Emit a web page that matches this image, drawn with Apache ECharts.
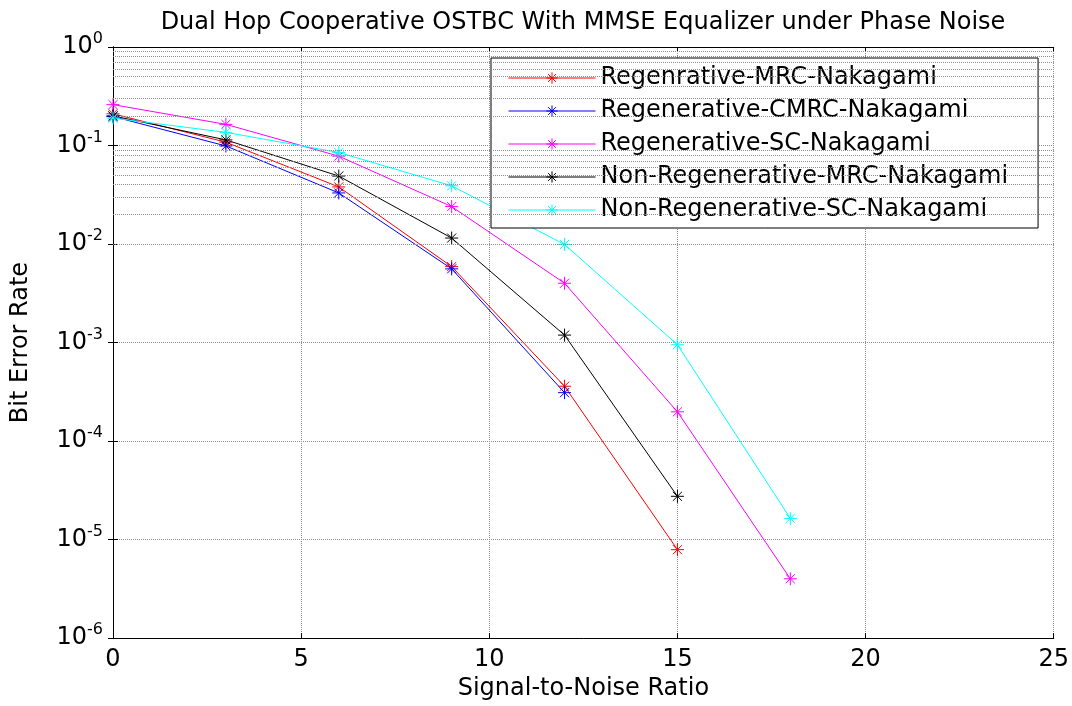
<!DOCTYPE html>
<html>
<head>
<meta charset="utf-8">
<script src="https://cdn.jsdelivr.net/npm/echarts@6/dist/echarts.min.js"></script>
<style>
  html, body { margin: 0; padding: 0; background: #fff; }
  #chart { width: 1072px; height: 706px; }
</style>
</head>
<body>
<div id="chart"></div>
<script>
// BER curves, dual hop cooperative OSTBC
const snr = [0, 3, 6, 9, 12, 15, 18];
const regenMRC = [0.21, 0.108, 0.038, 0.0059, 0.00036, 7.9e-6];
const regenCMRC = [0.197, 0.099, 0.033, 0.0056, 0.00031];
const regenSC = [0.26, 0.164, 0.078, 0.024, 0.004, 0.000198, 4.0e-6];
const nonRegenMRC = [0.2, 0.114, 0.049, 0.0115, 0.00119, 2.75e-5];
const nonRegenSC = [0.19, 0.136, 0.085, 0.039, 0.0099, 0.00095, 1.64e-5];

const names = ['Regenrative-MRC-Nakagami', 'Regenerative-CMRC-Nakagami', 'Regenerative-SC-Nakagami',
               'Non-Regenerative-MRC-Nakagami', 'Non-Regenerative-SC-Nakagami'];
const colors = ['#ff0000', '#0000ff', '#ff00ff', '#000000', '#00ffff'];
const curves = [regenMRC, regenCMRC, regenSC, nonRegenMRC, nonRegenSC];

// minor grid lines of the log axis (2..9 x each decade)
const decades = [1e-6, 1e-5, 1e-4, 1e-3, 1e-2, 1e-1];
const minorSteps = [2, 3, 4, 5, 6, 7, 8, 9];

const font = 'DejaVu Sans';
const asterisk = 'path://M5,0L5,10M0,5L10,5M1.5,1.5L8.5,8.5M8.5,1.5L1.5,8.5';
const gridDot = { color: '#8c8c8c', type: 'dotted', width: 1 };

let minorLines = [];
decades.forEach(d => minorSteps.forEach(m => minorLines.push({ yAxis: d * m })));

let series = curves.map((vals, i) => ({
    name: names[i],
    type: 'line',
    data: vals.map((v, j) => [snr[j], v]),
    symbol: asterisk,
    symbolSize: 13,
    lineStyle: { color: colors[i], width: 1 },
    itemStyle: { color: colors[i], borderColor: colors[i], borderWidth: 1 },
    z: 3
}));

series.push({
    name: 'minor',
    type: 'line',
    data: [],
    silent: true,
    markLine: {
        silent: true,
        symbol: 'none',
        label: { show: false },
        lineStyle: gridDot,
        animation: false,
        data: minorLines
    }
});

let chart = echarts.init(document.getElementById('chart'));

let option = {
    animation: false,
    backgroundColor: '#fff',
    title: {
        text: 'Dual Hop Cooperative OSTBC With MMSE Equalizer under Phase Noise',
        left: 578,
        top: 6,
        textAlign: 'center',
        textStyle: { fontFamily: font, fontSize: 24, fontWeight: 'normal', color: '#000' }
    },
    legend: {
        data: names,
        orient: 'vertical',
        left: 491,
        top: 58,
        padding: [8, 30, 6, 17],
        itemWidth: 87,
        itemHeight: 14,
        itemGap: 9,
        backgroundColor: '#fff',
        borderColor: '#000',
        borderWidth: 1,
        lineStyle: { width: 1 },
        itemStyle: { borderWidth: 1 },
        textStyle: { fontFamily: font, fontSize: 24, color: '#000', lineHeight: 24 }
    },
    grid: { left: 113, right: 18, top: 47, bottom: 64 },
    xAxis: [{
        type: 'value',
        min: 0,
        max: 25,
        interval: 5,
        name: 'Signal-to-Noise Ratio',
        nameLocation: 'middle',
        nameGap: 36,
        nameTextStyle: { fontFamily: font, fontSize: 24, color: '#000' },
        axisLine: { show: true, lineStyle: { color: '#000', width: 1 } },
        axisTick: { inside: true, length: 5, lineStyle: { color: '#000' } },
        axisLabel: { fontFamily: font, fontSize: 24, color: '#000', margin: 10 },
        splitLine: { show: true, lineStyle: gridDot }
    }, {
        type: 'value',
        position: 'top',
        min: 0,
        max: 25,
        interval: 5,
        axisLine: { show: true, lineStyle: { color: '#000', width: 1 } },
        axisTick: { inside: true, length: 5, lineStyle: { color: '#000' } },
        axisLabel: { show: false },
        splitLine: { show: false }
    }],
    yAxis: [{
        type: 'log',
        logBase: 10,
        min: 1e-6,
        max: 1,
        name: 'Bit Error Rate',
        nameLocation: 'middle',
        nameGap: 80,
        nameTextStyle: { fontFamily: font, fontSize: 24, color: '#000' },
        axisLine: { show: true, lineStyle: { color: '#000', width: 1 } },
        axisTick: { inside: true, length: 5, lineStyle: { color: '#000' } },
        axisLabel: {
            margin: 10,
            formatter: v => '{b|10}{e|' + Math.round(Math.log10(v)) + '}',
            rich: {
                b: { fontFamily: font, fontSize: 24, color: '#000' },
                e: { fontFamily: font, fontSize: 16, color: '#000', padding: [0, 0, 16, 0] }
            }
        },
        splitLine: { show: true, lineStyle: gridDot }
    }, {
        type: 'log',
        logBase: 10,
        min: 1e-6,
        max: 1,
        position: 'right',
        axisLine: { show: true, lineStyle: { color: '#000', width: 1 } },
        axisTick: { inside: true, length: 5, lineStyle: { color: '#000' } },
        axisLabel: { show: false },
        splitLine: { show: false }
    }],
    series: series
};

chart.setOption(option);
</script>
</body>
</html>
